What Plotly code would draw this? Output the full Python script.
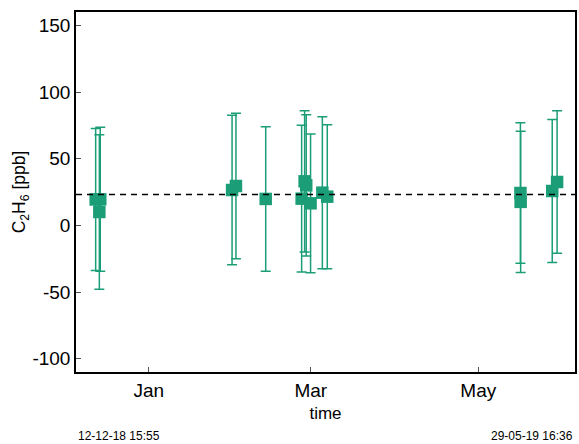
import numpy as np
import plotly.graph_objects as go

# ---- data ----
dates = [
    "2018-12-12 15:55", "2018-12-14 08:00", "2018-12-14 00:00",
    "2019-01-31 08:00", "2019-02-01 18:00", "2019-02-12 14:00",
    "2019-02-25 16:00", "2019-02-26 18:00", "2019-02-27 08:00",
    "2019-02-28 22:00", "2019-03-05 05:00", "2019-03-07 00:00",
    "2019-05-16 08:00", "2019-05-16 10:00", "2019-05-27 22:00",
    "2019-05-29 16:36",
]
c2h6 = [19.4, 19.5, 10.0, 26.5, 29.5, 19.8, 20.0, 33.0, 30.0, 16.5,
        24.5, 21.5, 24.25, 17.6, 25.75, 32.5]
c2h6_err = [53.2, 54.0, 58.0, 56.0, 54.5, 54.2, 55.0, 53.0, 53.0, 52.0,
            57.0, 54.0, 52.6, 53.0, 53.6, 53.4]
month_ticks = ["2019-01-01", "2019-03-01", "2019-05-01"]
month_labels = ["Jan", "Mar", "May"]
y_ticks = [-100, -50, 0, 50, 100, 150]
y_tick_labels = ["-100", "-50", "0", "50", "100", "150"]
start_label = "12-12-18 15:55"
end_label = "29-05-19 16:36"

mean_val = float(np.mean(c2h6))
GREEN = "#1b9e77"
FONT = "Liberation Sans, Arial, sans-serif"

fig = go.Figure()
fig.add_trace(go.Scatter(
    x=dates, y=c2h6, mode="markers",
    marker=dict(symbol="square", size=12.5, color=GREEN, line=dict(width=0)),
    error_y=dict(type="data", array=c2h6_err, visible=True,
                 color=GREEN, thickness=1.5, width=5),
    showlegend=False,
))

fig.add_shape(type="line", xref="paper", yref="y", x0=0, x1=1,
              y0=mean_val, y1=mean_val, layer="above",
              line=dict(color="black", width=1.5, dash="6px,5px"))

fig.update_layout(
    width=579, height=444,
    margin=dict(l=76, r=2, t=12, b=72),
    paper_bgcolor="white", plot_bgcolor="white",
    font=dict(family=FONT, color="black"),
    xaxis=dict(
        range=["2018-12-05 12:00", "2019-06-05 05:00"],
        tickvals=month_ticks, ticktext=month_labels,
        ticks="inside", ticklen=5, tickwidth=1, tickcolor="#555",
        showgrid=False, zeroline=False,
        showline=True, linecolor="black", linewidth=1.5, mirror=True,
        tickfont=dict(size=19),
        title=dict(text="time", font=dict(size=17), standoff=8),
    ),
    yaxis=dict(
        range=[-110, 160],
        tickvals=y_ticks, ticktext=y_tick_labels,
        ticks="inside", ticklen=5, tickwidth=1, tickcolor="#555",
        showgrid=False, zeroline=False,
        showline=True, linecolor="black", linewidth=1.5, mirror=True,
        tickfont=dict(size=19),
        title=dict(text="C<sub>2</sub>H<sub>6</sub> [ppb]", font=dict(size=17.5), standoff=2),
    ),
)

fig.add_annotation(text=start_label, xref="paper", yref="paper", x=0, y=0,
                   xanchor="left", yanchor="middle", yshift=-64, showarrow=False,
                   font=dict(size=12, color="black"))
fig.add_annotation(text=end_label, xref="paper", yref="paper", x=1, y=0,
                   xanchor="right", yanchor="middle", yshift=-64, showarrow=False,
                   font=dict(size=12, color="black"))

fig.write_html("out.html")
